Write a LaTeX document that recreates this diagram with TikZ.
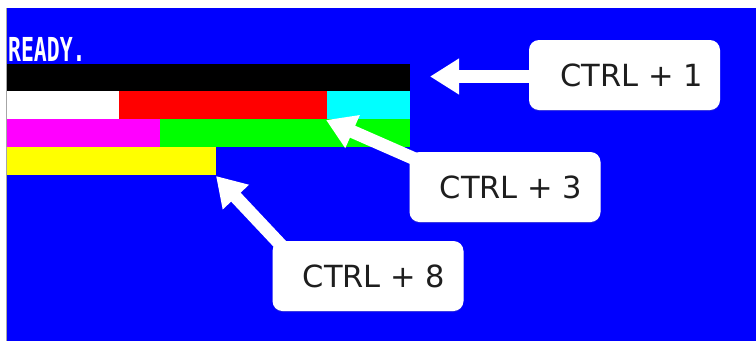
\documentclass[tikz,border=0pt]{standalone}
\usepackage{fontspec}
\setmainfont{DejaVu Sans}
\newfontfamily\retrofont{DejaVu Sans Mono}
\usetikzlibrary{arrows.meta,shadows}
\definecolor{scrblue}{RGB}{0,0,255}
\definecolor{txtgray}{RGB}{30,30,30}
\definecolor{cyanpure}{RGB}{0,255,255}
\definecolor{magentapure}{RGB}{255,0,255}
\definecolor{yellowpure}{RGB}{255,255,0}
\definecolor{redpure}{RGB}{255,0,0}
\definecolor{greenpure}{RGB}{0,255,0}
\tikzset{
  callout/.style={fill=white, rounded corners=10pt, minimum width=191pt, minimum height=70pt,
    inner sep=0pt, text=txtgray, font=\fontsize{30.5}{33}\selectfont,
    drop shadow={shadow xshift=0pt, shadow yshift=-1pt, opacity=0.25}},
  bigarrow/.style={draw=white, line width=13pt, -{Triangle[length=29pt,width=34pt]}},
}
\begin{document}
\begin{tikzpicture}[x=1pt,y=-1pt]
\useasboundingbox (0,0) rectangle (756,341);
\fill[white] (0,0) rectangle (756,341);
\fill[scrblue] (7,8) rectangle (756,341);
\fill[gray!70] (6,8) rectangle (7.4,341);
% READY.
\node[anchor=south west, inner sep=0pt, text=white, font=\retrofont\bfseries\fontsize{33}{33}\selectfont, xscale=0.65] (ready) at (8,61.5) {READY.};
% colour bars
\fill[black] (7,64) rectangle (410,91);
\fill[white] (7,91) rectangle (119,119);
\fill[redpure] (119,91) rectangle (327,119);
\fill[cyanpure] (327,91) rectangle (410,119);
\fill[magentapure] (7,119) rectangle (160,147);
\fill[greenpure] (160,119) rectangle (410,147);
\fill[yellowpure] (7,147) rectangle (216,175);
% arrow tips
\coordinate (t1) at (430,76.5);
\coordinate (t3) at (326,120);
\coordinate (t8) at (216,176);
\coordinate (s3) at (440,170);
\coordinate (s8) at (295,260);
% arrows
\draw[bigarrow] (545,76.5) -- (t1);
\draw[bigarrow] (s3) -- (t3);
\draw[bigarrow] (s8) -- (t8);
% callouts
\node[callout] (c1) at (624.5,75) {\hspace*{14pt}CTRL + 1};
\node[callout] (c3) at (505,187) {\hspace*{12pt}CTRL + 3};
\node[callout] (c8) at (368,276) {\hspace*{12pt}CTRL + 8};
\end{tikzpicture}
\end{document}
